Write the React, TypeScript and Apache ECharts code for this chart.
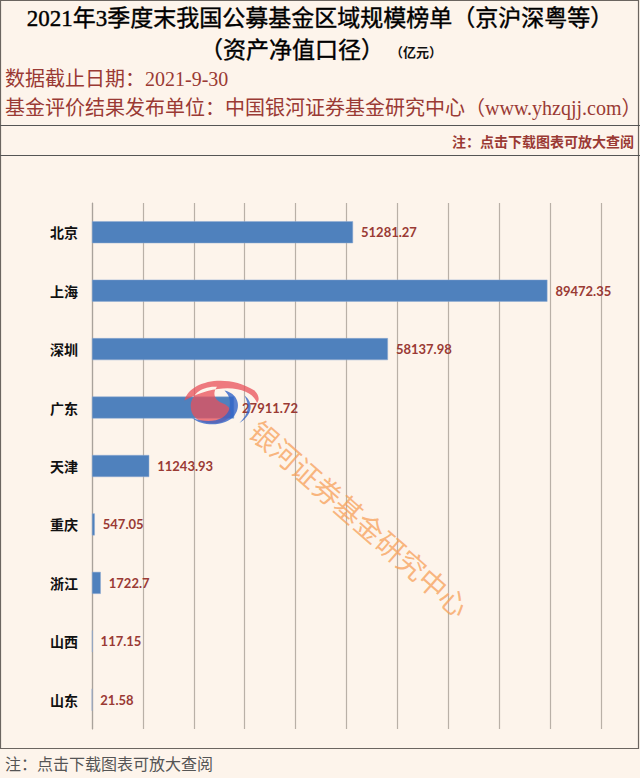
import React, { useEffect, useRef } from "react";
import * as echarts from "echarts";

const categories = ["北京", "上海", "深圳", "广东", "天津", "重庆", "浙江", "山西", "山东"];
const values = [51281.27, 89472.35, 58137.98, 27911.72, 11243.93, 547.05, 1722.7, 117.15, 21.58];
const titleLine1 = "2021年3季度末我国公募基金区域规模榜单（京沪深粤等）";
const titleLine2 = "（资产净值口径）";
const unitText = "（亿元）";
const dateText = "数据截止日期：2021-9-30";
const publisherText = "基金评价结果发布单位：中国银河证券基金研究中心（www.yhzqjj.com）";
const noteText = "注：点击下载图表可放大查阅";
const watermarkText = "银河证券基金研究中心";

const SERIF = "'Liberation Serif', 'DejaVu Serif', 'Noto Sans CJK SC', serif";
const CJK = "'Noto Sans CJK SC', sans-serif";

let registered = false;
function registerLogo() {
  if (registered) return;
  registered = true;
  echarts.graphic.registerShape(
    "logoRed",
    echarts.graphic.extendPath(
      "M -4 -13 C -20 -14 -28 -2 -24 8 C -20 17 -4 19 4 13 C 10 8 6 2 0 0 C -6 -2 -8 -8 -4 -13 Z M -30 -2 C -26 -18 4 -24 26 -10 C 30 -6 30 -2 28 0 C 24 -12 0 -18 -30 -2 Z",
      {}
    )
  );
  echarts.graphic.registerShape(
    "logoBlue",
    echarts.graphic.extendPath(
      "M 2 -10 C 12 -8 16 2 10 10 C 4 18 -14 20 -24 12 C -10 17 4 14 6 4 C 7 -2 6 -6 2 -10 Z M 18 -6 C 26 0 24 10 14 16 C 22 8 22 2 18 -6 Z",
      {}
    )
  );
}

export default function App() {
  const ref = useRef<HTMLDivElement>(null);
  useEffect(() => {
    document.body.style.margin = "0";
    registerLogo();
    const chart = echarts.init(ref.current!, null, { renderer: "svg" });
    const darkRed = "#9a3a34";
    chart.setOption({
      animation: false,
      backgroundColor: "#fdf4eb",
      grid: { left: 92, right: 39, top: 203, height: 526, containLabel: false },
      xAxis: {
        type: "value",
        min: 0,
        max: 100000,
        interval: 10000,
        axisLabel: { show: false },
        axisLine: { show: false },
        axisTick: { show: false },
        splitLine: { show: true, lineStyle: { color: "#b9b0a7", width: 1.2 } },
      },
      yAxis: {
        type: "category",
        data: categories,
        inverse: true,
        axisTick: { show: false },
        axisLine: { show: true, lineStyle: { color: "#a9a29b", width: 1.2 } },
        axisLabel: {
          color: "#111",
          fontFamily: CJK,
          fontWeight: "bold",
          fontSize: 14,
          margin: 14,
        },
      },
      series: [
        {
          type: "bar",
          data: values,
          barWidth: 22,
          itemStyle: { color: "#4f81bd", borderColor: "#8eaad3", borderWidth: 0.5 },
          label: {
            show: true,
            position: "right",
            distance: 8,
            color: darkRed,
            fontFamily: "Lato, 'Open Sans', sans-serif",
            fontWeight: "bold",
            fontSize: 13,
            formatter: (p: any) => String(p.value),
          },
        },
      ],
      graphic: [
        { type: "rect", silent: true, z: -1, shape: { x: 0.5, y: 0.5, width: 638, height: 748 }, style: { fill: "none", stroke: "#6b6560", lineWidth: 1.2 } },
        { type: "line", shape: { x1: 0, y1: 125.5, x2: 640, y2: 125.5 }, style: { stroke: "#555", lineWidth: 1.2 } },
        { type: "line", shape: { x1: 0, y1: 155.5, x2: 640, y2: 155.5 }, style: { stroke: "#555", lineWidth: 1.2 } },
        { type: "text", x: 320, y: 18, style: { text: titleLine1, font: `23px ${SERIF}`, fill: "#000", stroke: "#000", lineWidth: 0.4, align: "center", verticalAlign: "middle" } },
        { type: "text", x: 292, y: 50, style: { text: titleLine2, font: `23px ${SERIF}`, fill: "#000", stroke: "#000", lineWidth: 0.4, align: "center", verticalAlign: "middle" } },
        { type: "text", x: 390, y: 52, style: { text: unitText, font: `bold 13px ${SERIF}`, fill: "#111", align: "left", verticalAlign: "middle" } },
        { type: "text", x: 5, y: 79, style: { text: dateText, font: `20px ${SERIF}`, fill: darkRed, align: "left", verticalAlign: "middle" } },
        { type: "text", x: 5, y: 108, style: { text: publisherText, font: `20px ${SERIF}`, fill: darkRed, align: "left", verticalAlign: "middle" } },
        { type: "text", x: 634, y: 142, style: { text: noteText, font: `bold 14px ${SERIF}`, fill: darkRed, align: "right", verticalAlign: "middle" } },
        { type: "text", x: 5, y: 764, style: { text: noteText, font: `16px ${SERIF}`, fill: "#555", align: "left", verticalAlign: "middle" } },
        { type: "logoRed", x: 222, y: 403, scaleX: 1.25, scaleY: 1.25, z: 100, style: { fill: "rgba(232,80,90,0.75)" } },
        { type: "logoBlue", x: 222, y: 403, scaleX: 1.25, scaleY: 1.25, z: 100, style: { fill: "rgba(50,100,200,0.8)" } },
        {
          type: "text",
          x: 360,
          y: 518,
          rotation: -0.72,
          z: 100,
          style: {
            text: watermarkText,
            font: `28px ${CJK}`,
            fill: "rgba(247,160,90,0.75)",
            align: "center",
            verticalAlign: "middle",
          },
        },
      ],
    });
    return () => chart.dispose();
  }, []);
  return <div ref={ref} style={{ width: 640, height: 778 }} />;
}
